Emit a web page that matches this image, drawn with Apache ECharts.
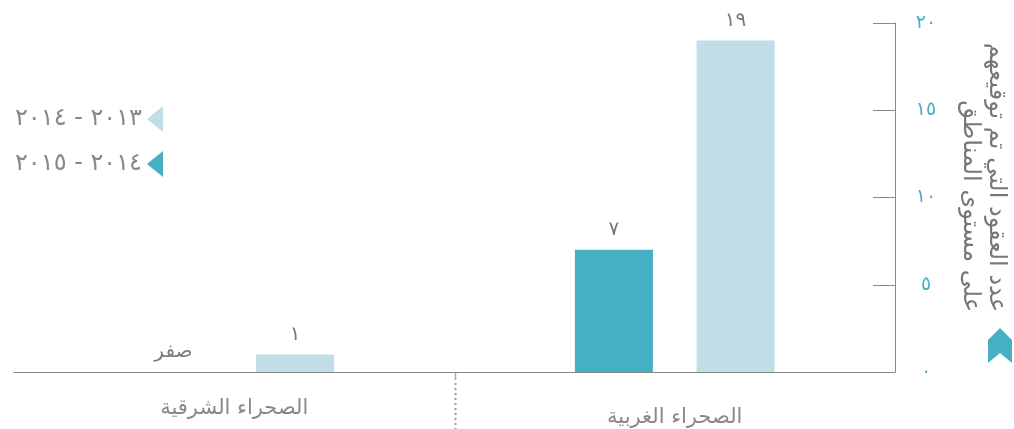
<!DOCTYPE html>
<html>
<head>
<meta charset="utf-8">
<script src="https://cdn.jsdelivr.net/npm/echarts@6/dist/echarts.min.js"></script>
<style>html,body{margin:0;padding:0;background:#fff}#c{width:1014px;height:429px}</style>
</head>
<body>
<div id="c"></div>
<script>
const categories = ['الصحراء الشرقية', 'الصحراء الغربية'];
const seriesNames = ['٢٠١٤ - ٢٠١٥', '٢٠١٣ - ٢٠١٤'];
const values2014_2015 = [0, 7];
const values2013_2014 = [1, 19];
const yTicks = [0, 5, 10, 15, 20];
const axisTitle = 'عدد العقود التي تم توقيعهم\nعلى مستوى المناطق';
const zeroWord = 'صفر';

const DARK = '#45afc4', LIGHT = '#c1dee6', GREY = '#888888';
const FONT = 'DejaVu Sans';
const AR_DIGITS = '٠١٢٣٤٥٦٧٨٩';
const toAr = n => String(n).replace(/[0-9]/g, d => AR_DIGITS[+d]);

const chart = echarts.init(document.getElementById('c'), null, {renderer: 'canvas'});
const barLabel = {
  show: true, position: 'top', distance: 10,
  fontFamily: FONT, fontSize: 20, color: '#7a7a7a',
  formatter: p => p.value === 0 ? zeroWord : toAr(p.value)
};
chart.setOption({
  animation: false,
  textStyle: {fontFamily: FONT},
  grid: {left: 14, right: 119, top: 23, bottom: 57, containLabel: false, outerBoundsMode: 'none'},
  legend: {
    orient: 'vertical', right: 846, top: 101, align: 'right',
    itemWidth: 16, itemHeight: 26, itemGap: 19,
    icon: 'path://M16,0 L0,13 L16,26 Z',
    data: [seriesNames[1], seriesNames[0]],
    textStyle: {fontFamily: FONT, fontSize: 24, color: GREY}
  },
  xAxis: {
    type: 'category', data: categories,
    axisLine: {lineStyle: {color: GREY, width: 1}},
    axisTick: {show: false},
    axisLabel: {
      margin: 26, fontSize: 21, color: GREY, fontFamily: FONT,
      formatter: (v, i) => i === 1 ? '{b|' + v + '}' : '{a|' + v + '}',
      rich: {
        a: {fontSize: 21, color: GREY, fontFamily: FONT},
        b: {fontSize: 21, color: GREY, fontFamily: FONT, padding: [9, 0, 0, 0]}
      }
    }
  },
  yAxis: {
    type: 'value', position: 'right', min: 0, max: 20, interval: 5,
    axisLine: {show: true, lineStyle: {color: GREY, width: 1}},
    axisTick: {show: true, inside: true, length: 22, lineStyle: {color: GREY}},
    splitLine: {show: false},
    axisLabel: {
      margin: 31, align: 'center', fontSize: 19, color: DARK, fontFamily: FONT,
      formatter: v => yTicks.includes(v) ? toAr(v) : ''
    }
  },
  series: [
    {name: seriesNames[0], type: 'bar', data: values2014_2015, barWidth: 78, barGap: '56%',
     itemStyle: {color: DARK}, label: barLabel},
    {name: seriesNames[1], type: 'bar', data: values2013_2014, barWidth: 78, barGap: '56%',
     itemStyle: {color: LIGHT}, label: barLabel}
  ]
});

const x0 = chart.convertToPixel({xAxisIndex: 0}, 0);
const x1 = chart.convertToPixel({xAxisIndex: 0}, 1);
const xb = Math.round((x0 + x1) / 2) + 0.5;
const yb = chart.convertToPixel({yAxisIndex: 0}, 0);
chart.setOption({
  graphic: [
    {type: 'line', shape: {x1: xb, y1: yb, x2: xb, y2: yb + 8}, style: {stroke: '#aaaaaa', lineWidth: 1.5}},
    {type: 'line', shape: {x1: xb, y1: yb + 11, x2: xb, y2: 429}, style: {stroke: '#999999', lineWidth: 2, lineDash: [2, 3]}},
    {type: 'text', x: 1009, y: 312, rotation: -Math.PI / 2,
     style: {text: axisTitle, align: 'right', verticalAlign: 'top', fontFamily: FONT, fontSize: 24, lineHeight: 26, fill: '#777777'}},
    {type: 'polygon', shape: {points: [[1000, 328], [1012, 340], [1012, 363], [1000, 353], [988, 363], [988, 340]]},
     style: {fill: DARK}}
  ]
});
</script>
</body>
</html>
